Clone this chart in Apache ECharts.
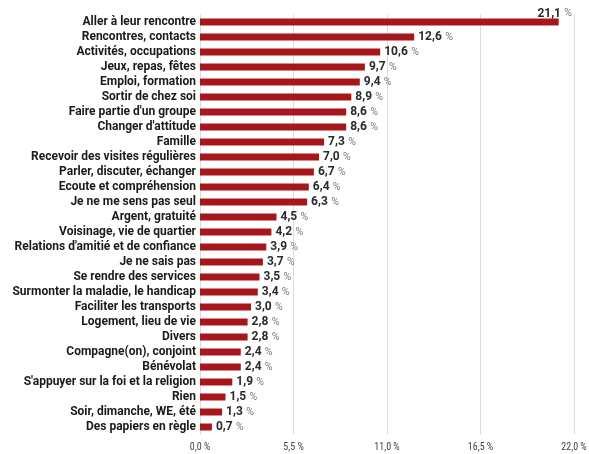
<!DOCTYPE html>
<html><head><meta charset="utf-8">
<script src="https://cdn.jsdelivr.net/npm/echarts@6/dist/echarts.min.js"></script>
<style>html,body{margin:0;padding:0;background:#fff}#c{width:589px;height:454px}</style>
</head><body><div id="c"></div>
<script>
const categories = [
  "Aller à leur rencontre","Rencontres, contacts","Activités, occupations","Jeux, repas, fêtes",
  "Emploi, formation","Sortir de chez soi","Faire partie d'un groupe","Changer d'attitude",
  "Famille","Recevoir des visites régulières","Parler, discuter, échanger","Ecoute et compréhension",
  "Je ne me sens pas seul","Argent, gratuité","Voisinage, vie de quartier","Relations d'amitié et de confiance",
  "Je ne sais pas","Se rendre des services","Surmonter la maladie, le handicap","Faciliter les transports",
  "Logement, lieu de vie","Divers","Compagne(on), conjoint","Bénévolat",
  "S'appuyer sur la foi et la religion","Rien","Soir, dimanche, WE, été","Des papiers en règle"
];
const values = [21.1,12.6,10.6,9.7,9.4,8.9,8.6,8.6,7.3,7.0,6.7,6.4,6.3,4.5,4.2,3.9,3.7,3.5,3.4,3.0,2.8,2.8,2.4,2.4,1.9,1.5,1.3,0.7];
const axisMin = 0, axisMax = 22, axisStep = 5.5;

const fmt = v => v.toFixed(1).replace('.', ',');
const FONT = "Roboto,'Liberation Sans',sans-serif";
const FONT_C = "'Roboto Condensed',Roboto,sans-serif";

const data = values.map((v, i) => {
  const d = { value: v };
  if (i === 0) {
    d.label = { position: ['100%', -11], align: 'center', offset: [-4, 0] };
  }
  return d;
});

const chart = echarts.init(document.getElementById('c'));
chart.setOption({
  animation: false,
  grid: { left: 200, right: 15, top: 14.5, bottom: 19.5, containLabel: false, outerBoundsMode: 'none' },
  xAxis: {
    type: 'value', min: axisMin, max: axisMax, interval: axisStep,
    axisLine: { show: false }, axisTick: { show: false },
    splitLine: { show: true, lineStyle: { color: '#dcdcdc', width: 1 } },
    axisLabel: { formatter: v => fmt(v) + ' %', color: '#444', fontSize: 10, fontFamily: FONT_C, margin: 8 }
  },
  yAxis: {
    type: 'category', data: categories, inverse: true,
    axisLine: { show: false }, axisTick: { show: false },
    axisLabel: { interval: 0, color: '#1a1a1a', fontWeight: 'bold', fontSize: 12, fontFamily: FONT, margin: 4 }
  },
  series: [{
    type: 'bar', data: data, barWidth: 7,
    itemStyle: { color: '#a6161b' },
    label: {
      show: true, position: 'right', distance: 4,
      formatter: p => '{a|' + fmt(p.value) + '} {b|%}',
      rich: {
        a: { fontWeight: 'bold', fontSize: 12, color: '#2a2a2a', fontFamily: FONT },
        b: { fontSize: 10.5, color: '#777', fontFamily: FONT }
      }
    }
  }]
});
</script></body></html>
